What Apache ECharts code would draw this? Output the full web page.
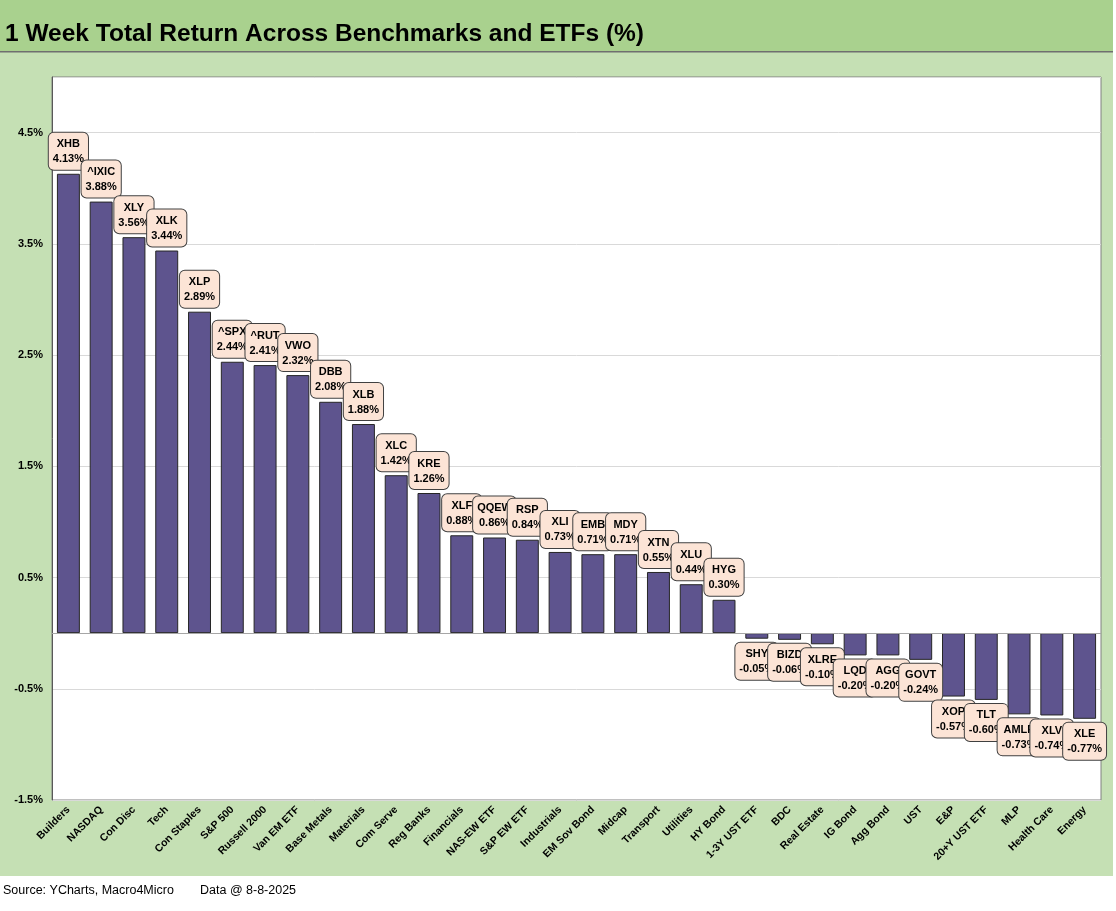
<!DOCTYPE html>
<html>
<head>
<meta charset="utf-8">
<script src="https://cdn.jsdelivr.net/npm/echarts@6/dist/echarts.min.js"></script>
<style>
html,body{margin:0;padding:0;background:#fff;}
#chart{width:1116px;height:911px;}
</style>
</head>
<body>
<div id="chart"></div>
<script>
const categories = ["Builders","NASDAQ","Con Disc","Tech","Con Staples","S&P 500","Russell 2000","Van EM ETF","Base Metals","Materials","Com Serve","Reg Banks","Financials","NAS-EW ETF","S&P EW ETF","Industrials","EM Sov Bond","Midcap","Transport","Utilities","HY Bond","1-3Y UST ETF","BDC","Real Estate","IG Bond","Agg Bond","UST","E&P","20+Y UST ETF","MLP","Health Care","Energy"];
const tickers = ["XHB","^IXIC","XLY","XLK","XLP","^SPX","^RUT","VWO","DBB","XLB","XLC","KRE","XLF","QQEW","RSP","XLI","EMB","MDY","XTN","XLU","HYG","SHY","BIZD","XLRE","LQD","AGG","GOVT","XOP","TLT","AMLP","XLV","XLE"];
const returns = [4.13,3.88,3.56,3.44,2.89,2.44,2.41,2.32,2.08,1.88,1.42,1.26,0.88,0.86,0.84,0.73,0.71,0.71,0.55,0.44,0.30,-0.05,-0.06,-0.10,-0.20,-0.20,-0.24,-0.57,-0.60,-0.73,-0.74,-0.77];
const yTicks = {min:-1.5, max:5, interval:1};

const chart = echarts.init(document.getElementById('chart'));
const FONT = 'Liberation Sans';

chart.setOption({
  animation:false,
  textStyle:{fontFamily:FONT},
  graphic:[
    {type:'rect', z:-10, shape:{x:0,y:0,width:1113,height:876}, style:{fill:'#c5e0b4'}},
    {type:'rect', z:-9, shape:{x:0,y:0,width:1113,height:51}, style:{fill:'#a9d18e'}},
    {type:'rect', z:-8, shape:{x:0,y:51,width:1113,height:1.5}, style:{fill:'#6f6f6f'}},
    {type:'text', left:5, top:22, style:{text:'1 Week Total Return Across Benchmarks and ETFs (%)', font:'bold 24.5px "Liberation Sans"', fill:'#000'}},
    {type:'text', left:3, top:884, style:{text:'Source: YCharts, Macro4Micro', font:'12.5px "Liberation Sans"', fill:'#000'}},
    {type:'text', left:200, top:884, style:{text:'Data @ 8-8-2025', font:'12.5px "Liberation Sans"', fill:'#000'}}
  ],
  grid:{left:52, right:15, top:77, bottom:111, show:true, backgroundColor:'#fff', borderColor:'#808080', borderWidth:1},
  xAxis:{
    type:'category', data:categories, position:'bottom',
    axisLine:{show:false, onZero:false}, axisTick:{show:false},
    axisLabel:{rotate:45, interval:0, fontSize:10.5, fontWeight:'bold', color:'#000', margin:8, fontFamily:FONT}
  },
  yAxis:{
    type:'value', min:yTicks.min, max:yTicks.max, interval:yTicks.interval,
    axisLine:{show:true, lineStyle:{color:'#595959'}}, axisTick:{show:false},
    axisLabel:{showMaxLabel:false, formatter:v=>v.toFixed(1)+'%', fontSize:11, fontWeight:'bold', color:'#000', margin:9, fontFamily:FONT},
    splitLine:{lineStyle:{color:'#d9d9d9'}}
  },
  series:[{
    type:'bar',
    barCategoryGap:'30%',
    data:returns.map(v=>({value:v, label:{position: v>=0?'top':'bottom'}})),
    itemStyle:{color:'#5e548e', borderColor:'#262626', borderWidth:1},
    label:{
      show:true, distance:4,
      formatter:p=>tickers[p.dataIndex]+'\n'+p.value.toFixed(2)+'%',
      backgroundColor:'#fce4d6', borderColor:'#404040', borderWidth:1, borderRadius:5,
      padding:[4,4,3,4], lineHeight:15, fontSize:11, fontWeight:'bold', color:'#000', fontFamily:FONT, align:'center'
    },
    labelLayout:{hideOverlap:false},
    markLine:{
      silent:true, symbol:'none', label:{show:false},
      lineStyle:{color:'#a6a6a6', type:'solid', width:1},
      data:[{yAxis:0}]
    }
  }]
});
</script>
</body>
</html>
